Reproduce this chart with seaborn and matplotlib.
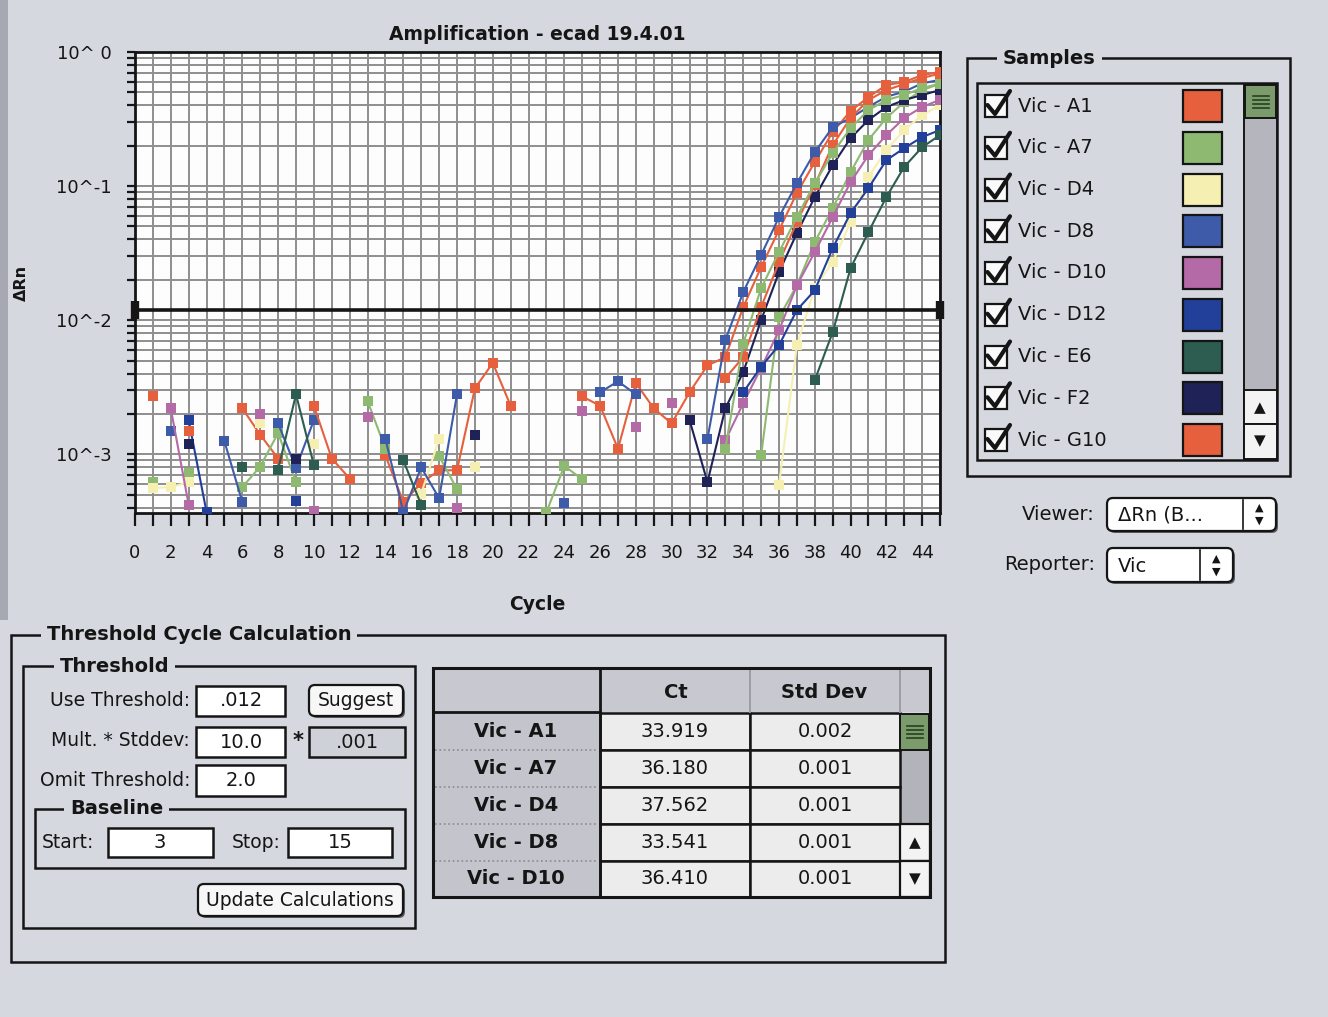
import numpy as np
import pandas as pd
import matplotlib
matplotlib.use("Agg")
import matplotlib.pyplot as plt
import seaborn as sns
from matplotlib.patches import Rectangle, FancyBboxPatch
from matplotlib.ticker import FixedLocator, FixedFormatter, LogLocator, NullFormatter

nan = np.nan
cycles = list(range(1, 46))

# ΔRn per cycle (cycles 1-45); NaN where the reading is not positive
vic_a1 = [0.0027, nan, nan, nan, nan, 0.0022, 0.0014, 0.00093, nan,
          nan, nan, nan, nan, 0.00098, 0.00044, 0.00061, 0.00076, 0.00076,
          0.0031, 0.0048, 0.0023, nan, nan, nan, 0.0027, 0.0023, 0.0011,
          0.0034, 0.0022, 0.0017, 0.0029, 0.0046, 0.0053, 0.0125, 0.0249, 0.047,
          0.0887, 0.151, 0.253, 0.363, 0.461, 0.567, 0.597, 0.673, 0.709]
vic_a7 = [0.00062, nan, 0.00072, nan, nan, 0.00057, 0.00081, 0.00144, 0.00062,
          nan, nan, nan, 0.0025, 0.0011, nan, nan, 0.00097, 0.00055,
          nan, nan, nan, nan, 0.00037, 0.00082, 0.00065, nan, nan,
          nan, nan, nan, nan, nan, nan, nan, 0.00098, 0.0105,
          0.0182, 0.0382, 0.0685, 0.127, 0.221, 0.322, 0.424, 0.52, 0.58]
vic_d4 = [0.00056, 0.00057, 0.00062, nan, nan, nan, 0.0017, nan, nan,
          0.0012, nan, nan, nan, nan, nan, 0.00051, 0.0013, nan,
          0.00081, nan, nan, nan, nan, nan, nan, nan, nan,
          nan, nan, nan, nan, nan, nan, nan, nan, 0.00059,
          0.0065, 0.0175, 0.0271, 0.0539, 0.117, 0.186, 0.262, 0.339, 0.40]
vic_d8 = [nan, 0.0015, nan, nan, 0.00125, 0.00044, nan, 0.0017, 0.00079,
          0.0018, nan, nan, nan, 0.0013, 0.00037, 0.0008, 0.00047, 0.0028,
          nan, nan, nan, nan, nan, 0.00043, nan, 0.0029, 0.0035,
          0.0028, nan, nan, nan, 0.0013, 0.0071, 0.0162, 0.0306, 0.0587,
          0.105, 0.179, 0.275, 0.322, 0.39, 0.464, 0.506, 0.584, 0.62]
vic_d10 = [nan, 0.0022, 0.00042, nan, nan, nan, 0.002, nan, nan,
           0.00038, nan, nan, 0.0019, nan, nan, nan, nan, 0.0004,
           nan, nan, nan, nan, nan, nan, 0.0021, nan, nan,
           0.0016, nan, 0.0024, nan, nan, 0.00127, 0.0024, 0.0044, 0.0084,
           0.0182, 0.0322, 0.0587, 0.107, 0.17, 0.24, 0.322, 0.389, 0.44]
vic_d12 = [nan, nan, 0.0018, 0.00037, nan, nan, nan, nan, 0.00045,
           nan, nan, nan, nan, nan, nan, nan, nan, nan,
           nan, nan, nan, nan, nan, nan, nan, nan, nan,
           nan, nan, nan, nan, nan, nan, 0.0029, 0.0045, 0.0065,
           0.0119, 0.0167, 0.0344, 0.0629, 0.0966, 0.156, 0.192, 0.232, 0.262]
vic_e6 = [nan, nan, nan, nan, nan, 0.00081, nan, 0.00077, 0.0028,
          0.00083, nan, nan, nan, nan, 0.0009, 0.00042, nan, nan,
          nan, nan, nan, nan, nan, nan, nan, nan, nan,
          nan, nan, nan, nan, nan, nan, nan, nan, nan,
          nan, 0.00357, 0.00813, 0.0244, 0.0454, 0.0828, 0.139, 0.195, 0.24]
vic_f2 = [nan, nan, 0.0012, nan, nan, nan, nan, nan, 0.00093,
          nan, nan, nan, nan, nan, nan, nan, nan, nan,
          0.0014, nan, nan, nan, nan, nan, nan, nan, nan,
          nan, nan, nan, 0.0018, 0.00062, 0.0022, 0.0041, 0.01, 0.0228,
          0.0446, 0.0828, 0.143, 0.228, 0.311, 0.389, 0.438, 0.478, 0.52]
vic_g10 = [nan, nan, 0.0015, nan, nan, nan, nan, nan, nan,
           0.0023, 0.00093, 0.00066, nan, nan, nan, nan, nan, nan,
           nan, nan, nan, nan, nan, nan, nan, nan, nan,
           nan, nan, nan, nan, nan, 0.0037, 0.0053, 0.0125, 0.0271,
           0.0539, 0.102, 0.202, 0.322, 0.438, 0.52, 0.577, 0.64, 0.69]
# a further well further down the (scrolled) sample list
vic_more = [nan] * 27 + [nan, nan, nan, nan, nan, 0.0011, 0.0067, 0.0173, 0.0322,
                         0.0587, 0.105, 0.176, 0.271, 0.369, 0.438, 0.478, 0.539, 0.58]

sample_names = ["Vic - A1", "Vic - A7", "Vic - D4", "Vic - D8", "Vic - D10",
                "Vic - D12", "Vic - E6", "Vic - F2", "Vic - G10"]
sample_colors = ["#e6603e", "#8dba70", "#f5f0b2", "#3d5ba8", "#b46aa6",
                 "#22409a", "#2c5d50", "#1e2256", "#e6603e"]
series = [vic_a1, vic_a7, vic_d4, vic_d8, vic_d10, vic_d12, vic_e6, vic_f2, vic_g10, vic_more]
plot_names = sample_names + ["Vic - more"]
plot_colors = sample_colors + ["#8dba70"]

threshold = 0.012
x_ticks = list(range(0, 45, 2))
y_decades = [1e-3, 1e-2, 1e-1, 1.0]
y_labels = ["10^-3", "10^-2", "10^-1", "10^ 0"]

# results table
table_samples = ["Vic - A1", "Vic - A7", "Vic - D4", "Vic - D8", "Vic - D10"]
table_ct = [33.919, 36.180, 37.562, 33.541, 36.410]
table_sd = [0.002, 0.001, 0.001, 0.001, 0.001]

# long-form table; each unbroken run of readings is its own unit so gaps stay open
rows = []
seg = 0
for name, vals in zip(plot_names, series):
    prev = False
    for c, v in zip(cycles, vals):
        if np.isnan(v):
            prev = False
            continue
        if not prev:
            seg += 1
        rows.append({"sample": name, "cycle": c, "drn": v, "run": seg})
        prev = True
df = pd.DataFrame(rows)

W, H = 1328, 1017
BG = "#d6d8e0"
INK = "#151515"
GRID = "#8e8e8e"

fig = plt.figure(figsize=(W / 100, H / 100), dpi=100, facecolor=BG)
gui = fig.add_axes([0, 0, 1, 1], zorder=0)
gui.set_xlim(0, W)
gui.set_ylim(H, 0)
gui.axis("off")


def rect(x0, y0, x1, y1, fc="none", ec=INK, lw=1.6, z=1, **kw):
    gui.add_patch(Rectangle((x0, y0), x1 - x0, y1 - y0, facecolor=fc, edgecolor=ec,
                            linewidth=lw, zorder=z, **kw))


def rbox(x0, y0, x1, y1, fc="white", ec=INK, lw=1.6, r=6, z=2, shadow=True):
    style = f"round,pad=0,rounding_size={r}"
    if shadow:
        gui.add_patch(FancyBboxPatch((x0 + 2, y0 + 2), x1 - x0, y1 - y0, boxstyle=style,
                                     fc="#5e5f66", ec="none", zorder=z - 0.5))
    gui.add_patch(FancyBboxPatch((x0, y0), x1 - x0, y1 - y0, boxstyle=style,
                                 fc=fc, ec=ec, lw=lw, zorder=z))


def T(x, y, s, size=13.5, weight="normal", ha="left", va="center", color=INK, bg=None, z=4):
    kw = {}
    if bg is not None:
        kw["bbox"] = dict(boxstyle="square,pad=0.3", fc=bg, ec="none")
    gui.text(x, y, s, fontsize=size, fontweight=weight, ha=ha, va=va, color=color,
             zorder=z, **kw)


def group(x0, y0, x1, y1, title, tx, size=14):
    rect(x0, y0, x1, y1, lw=1.8)
    T(tx, y0, title, size=size, weight="bold", bg=BG)


def thumb(x0, y0, x1, y1):
    rect(x0, y0, x1, y1, fc="#7b9b6c", ec=INK, lw=1.4, z=3)
    xm, ym = (x0 + x1) / 2, (y0 + y1) / 2
    for d in (-6, -2, 2, 6):
        gui.plot([xm - 8, xm + 8], [ym + d, ym + d], color="#26401f", lw=1.2, zorder=4)


# scanner edge
rect(0, 0, 8, 620, fc="#a7a9b2", ec="none", lw=0, z=0.5)

# ---------------- amplification plot ----------------
ax = fig.add_axes([135 / W, 1 - 513 / H, 805 / W, 461 / H], zorder=2)
ax.set_facecolor("#fdfdfd")
ax.set_yscale("log")
ax.set_xlim(0, 45)
ax.set_ylim(3.65e-4, 1.0)
ax.set_axisbelow(True)

ax.xaxis.set_major_locator(FixedLocator(x_ticks))
ax.xaxis.set_minor_locator(FixedLocator(list(range(1, 46, 2))))
ax.yaxis.set_major_locator(FixedLocator(y_decades))
ax.yaxis.set_major_formatter(FixedFormatter(y_labels))
ax.yaxis.set_minor_locator(LogLocator(base=10, subs=np.arange(2, 10), numticks=20))
ax.yaxis.set_minor_formatter(NullFormatter())
ax.grid(True, which="both", color=GRID, linewidth=1.4)

sns.lineplot(data=df, x="cycle", y="drn", hue="sample", units="run", estimator=None,
             hue_order=plot_names, palette=dict(zip(plot_names, plot_colors)),
             marker="s", markersize=7.6, markeredgewidth=0, linewidth=1.5,
             legend=False, sort=False, ax=ax, zorder=3)

ax.axhline(threshold, color=INK, linewidth=2.6, zorder=5)
ax.plot([0, 45], [threshold, threshold], ls="none", marker="|", markersize=13,
        markeredgewidth=6, color=INK, clip_on=False, zorder=6)

for s in ax.spines.values():
    s.set_linewidth(2.0)
    s.set_color(INK)
ax.tick_params(axis="x", which="both", direction="out", length=9, width=1.6,
               pad=13, labelsize=13, colors=INK)
ax.tick_params(axis="y", which="both", direction="out", length=6, width=1.6,
               pad=11, labelsize=13, colors=INK)
ax.set_xlabel("")
ax.set_ylabel("")

T(537, 35, "Amplification - ecad 19.4.01", size=13.5, weight="bold", ha="center")
T(537, 605, "Cycle", size=13.5, weight="bold", ha="center")
gui.text(21, 283, "ΔRn", fontsize=11.5, fontweight="bold", rotation=90,
         ha="center", va="center", color=INK)

# ---------------- samples list ----------------
group(967, 58, 1290, 476, "Samples", 1003)
rect(977, 83, 1277, 460, fc=BG, lw=1.8)
for i, (name, col) in enumerate(zip(sample_names, sample_colors)):
    yc = 106 + 41.75 * i
    rect(985, yc - 11, 1007, yc + 11, fc="#fafafa", ec=INK, lw=1.6, z=3)
    gui.plot([987.5, 995, 1010], [yc - 1, yc + 8, yc - 15], color=INK, lw=3,
             solid_capstyle="round", solid_joinstyle="round", zorder=4)
    T(1018, yc, name, size=14)
    rect(1183, yc - 16, 1222, yc + 16, fc=col, ec=INK, lw=1.6, z=3)
rect(1244, 84, 1277, 459, fc="#b5b6bd", ec=INK, lw=1.4, z=2)
thumb(1245, 85, 1276, 118)
rect(1244, 390, 1277, 424, fc="#f3f3f3", ec=INK, lw=1.4, z=3)
rect(1244, 424, 1277, 459, fc="#f3f3f3", ec=INK, lw=1.4, z=3)
T(1260, 408, "▲", size=11, ha="center")
T(1260, 441, "▼", size=11, ha="center")

# ---------------- viewer / reporter ----------------
T(1095, 514, "Viewer:", size=14, ha="right")
rbox(1107, 498, 1276, 531)
T(1118, 515, "ΔRn (B...", size=14)
gui.plot([1243, 1243], [500, 529], color=INK, lw=1.2, zorder=4)
T(1259, 508, "▲", size=8, ha="center")
T(1259, 521, "▼", size=8, ha="center")

T(1095, 564, "Reporter:", size=14, ha="right")
rbox(1107, 548, 1233, 582)
T(1118, 566, "Vic", size=14)
gui.plot([1200, 1200], [550, 580], color=INK, lw=1.2, zorder=4)
T(1216, 559, "▲", size=8, ha="center")
T(1216, 572, "▼", size=8, ha="center")

# ---------------- threshold cycle calculation ----------------
group(11, 635, 945, 962, "Threshold Cycle Calculation", 47)
group(23, 666, 415, 928, "Threshold", 60)
group(35, 809, 405, 868, "Baseline", 70)

T(190, 701, "Use Threshold:", size=13.5, ha="right")
rect(196, 686, 285, 716, fc="white", lw=1.8, z=3)
T(241, 701, f"{threshold:.3f}".lstrip("0"), size=14, ha="center")
rbox(309, 685, 403, 716, fc="#f7f7f7")
T(356, 701, "Suggest", size=13.5, ha="center")

T(190, 741, "Mult. * Stddev:", size=13.5, ha="right")
rect(196, 727, 285, 757, fc="white", lw=1.8, z=3)
T(241, 742, "10.0", size=14, ha="center")
T(298, 741, "*", size=15, weight="bold", ha="center")
rect(309, 727, 405, 757, fc="#cfd1d8", lw=1.8, z=3)
T(357, 742, ".001", size=14, ha="center")

T(190, 780, "Omit Threshold:", size=13.5, ha="right")
rect(196, 765, 285, 796, fc="white", lw=1.8, z=3)
T(241, 781, "2.0", size=14, ha="center")

T(42, 842, "Start:", size=13.5)
rect(108, 828, 213, 857, fc="white", lw=1.8, z=3)
T(160, 843, "3", size=14, ha="center")
T(232, 842, "Stop:", size=13.5)
rect(288, 828, 392, 857, fc="white", lw=1.8, z=3)
T(340, 843, "15", size=14, ha="center")

rbox(198, 884, 403, 916, fc="#f7f7f7")
T(300, 900, "Update Calculations", size=13.5, ha="center")

# ---------------- Ct table ----------------
rect(433, 668, 930, 712, fc="#c8c9d0", ec="none", lw=0, z=2)
rect(433, 712, 600, 897, fc="#c4c5cc", ec="none", lw=0, z=2)
edges = [713, 750, 787, 824, 861, 897]
for i, (name, ct, sd) in enumerate(zip(table_samples, table_ct, table_sd)):
    y0, y1 = edges[i], edges[i + 1]
    rect(600, y0, 750, y1, fc="#ececec", ec=INK, lw=1.8, z=3)
    rect(750, y0, 900, y1, fc="#ececec", ec=INK, lw=1.8, z=3)
    T(516, (y0 + y1) / 2, name, size=14, weight="bold", ha="center")
    T(675, (y0 + y1) / 2, f"{ct:.3f}", size=14, ha="center")
    T(825, (y0 + y1) / 2, f"{sd:.3f}", size=14, ha="center")
    if i > 0:
        gui.plot([435, 598], [y0, y0], color="#8a8a8e", lw=1.2, ls=":", zorder=3)
gui.plot([433, 600], [712, 712], color=INK, lw=2, zorder=3)
gui.plot([600, 600], [668, 897], color=INK, lw=2, zorder=3)
gui.plot([750, 750], [670, 712], color="#9c9ca2", lw=1.4, zorder=3)
gui.plot([900, 900], [670, 712], color="#9c9ca2", lw=1.4, zorder=3)
T(676, 693, "Ct", size=14, weight="bold", ha="center")
T(824, 693, "Std Dev", size=14, weight="bold", ha="center")
rect(900, 750, 930, 824, fc="#b3b4bb", ec="none", lw=0, z=2)
thumb(900, 714, 929, 750)
rect(900, 824, 930, 861, fc="#f3f3f3", ec=INK, lw=1.6, z=3)
rect(900, 861, 930, 897, fc="#f3f3f3", ec=INK, lw=1.6, z=3)
T(915, 843, "▲", size=11, ha="center")
T(915, 879, "▼", size=11, ha="center")
rect(433, 668, 930, 897, lw=2.2, z=5)

fig.savefig("out.png", dpi=100, facecolor=BG)
